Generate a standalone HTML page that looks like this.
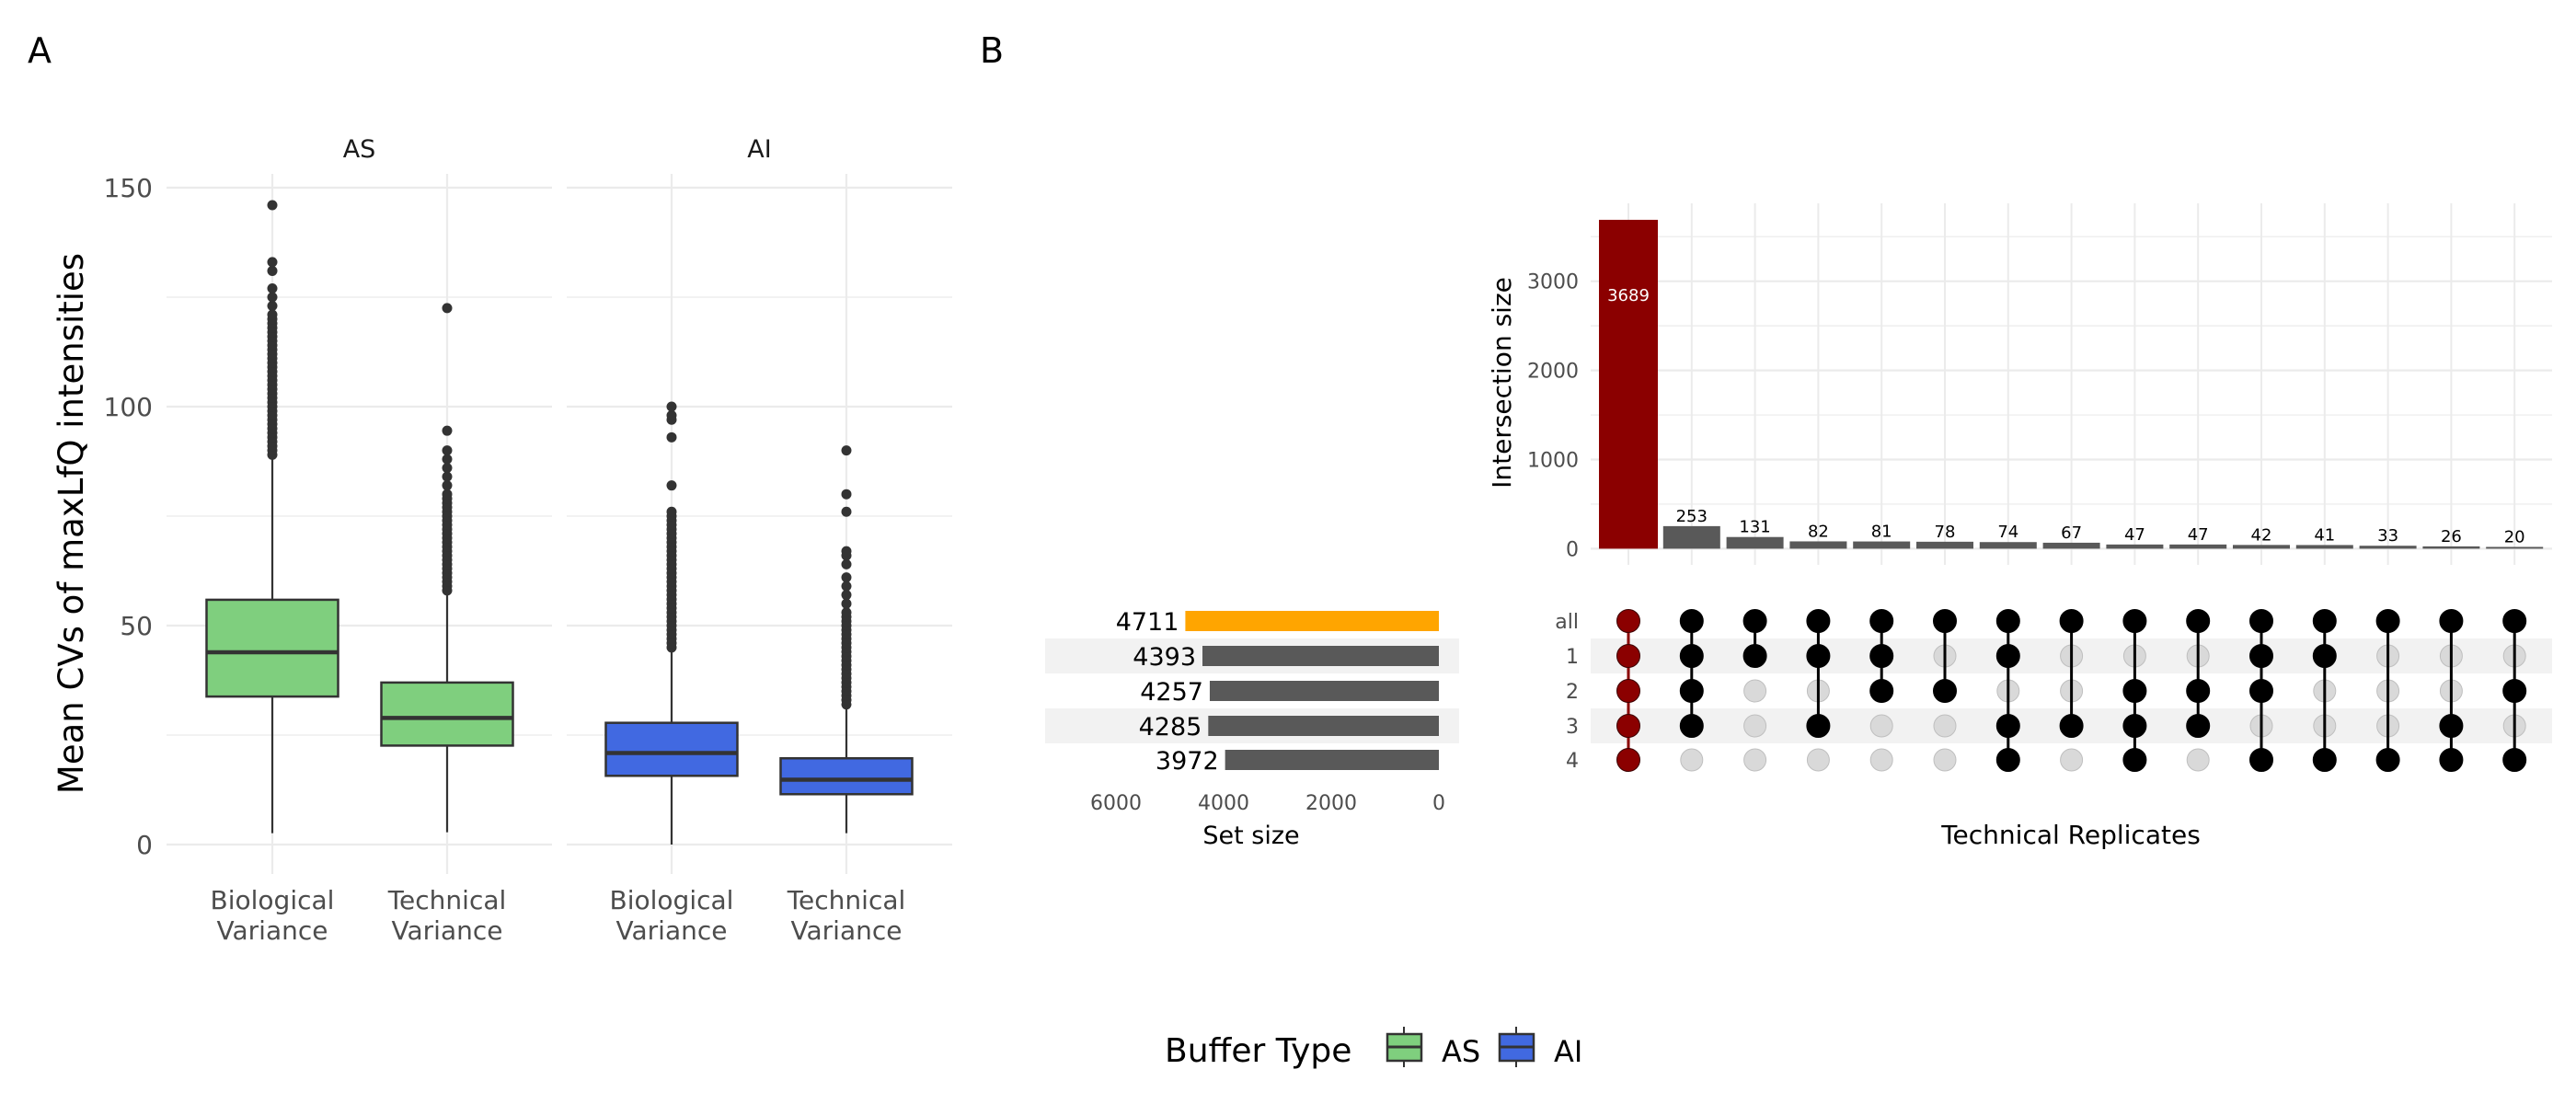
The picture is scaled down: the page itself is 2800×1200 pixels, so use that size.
<!DOCTYPE html>
<html><head><meta charset="utf-8"><style>
html,body{margin:0;padding:0;background:#fff;}
svg{display:block;font-family:"DejaVu Sans","Liberation Sans",sans-serif;}
</style></head><body>
<svg id="c" width="2800" height="1200" viewBox="0 0 2800 1200" xmlns="http://www.w3.org/2000/svg">
<text x="30" y="68" font-size="38" fill="#000">A</text>
<text x="1065" y="68" font-size="38" fill="#000">B</text>
<g id="left"></g>
<g id="right" transform="translate(14,3)"></g>
<g id="legend" transform="translate(14,0)">
<text x="1252" y="1154" font-size="36" fill="#000">Buffer Type</text>
<g>
<line x1="1512" y1="1116" x2="1512" y2="1160" stroke="#333" stroke-width="2"/>
<rect x="1494" y="1124" width="37" height="29" fill="#7FCF7E" stroke="#333" stroke-width="2.5"/>
<line x1="1494" y1="1138" x2="1531" y2="1138" stroke="#333" stroke-width="3"/>
<text x="1553" y="1154" font-size="32" fill="#000">AS</text></g>
<g>
<line x1="1634" y1="1116" x2="1634" y2="1160" stroke="#333" stroke-width="2"/>
<rect x="1616" y="1124" width="37" height="29" fill="#4169E1" stroke="#333" stroke-width="2.5"/>
<line x1="1616" y1="1138" x2="1653" y2="1138" stroke="#333" stroke-width="3"/>
<text x="1675" y="1154" font-size="32" fill="#000">AI</text></g>
</g>
</svg>
<script>
// ---- Box plot data ----
const panels = ["AS","AI"];
const categories = ["Biological Variance","Technical Variance"];
const boxQ1 = [33.8, 22.6, 15.7, 11.5];
const boxMedian = [43.9, 28.9, 20.9, 14.8];
const boxQ3 = [55.9, 37.0, 27.8, 19.7];
const whiskerLow = [2.6, 2.8, 0, 2.6];
const whiskerHigh = [89, 58, 44.5, 31.6];
const outliers0 = [89,90,91,92,93,94,95,96,97,98,99,100,101,102,103,104,105,106,107,108,109,110,111,112,113,114,115,116,117,118,119,120,121,123,125,127,131,133,146];
const outliers1 = [58,59,60,61,62,63,64,65,66,67,68,69,70,71,72,73,74,75,76,77,78,79,80,82,84,86,88,90,94.5,122.5];
const outliers2 = [45,46,47,48,49,50,51,52,53,54,55,56,57,58,59,60,61,62,63,64,65,66,67,68,69,70,71,72,73,74,75,76,82,93,97,98,100];
const outliers3 = [32,33,34,35,36,37,38,39,40,41,42,43,44,45,46,47,48,49,50,51,52,53,55,57,59,61,64,66,67,76,80,90];
const yTicks = [0,50,100,150];
const boxFill = ["#7FCF7E","#7FCF7E","#4169E1","#4169E1"];

// ---- UpSet data ----
const intersectionSizes = [3689,253,131,82,81,78,74,67,47,47,42,41,33,26,20];
const setNames = ["all","1","2","3","4"];
const setSizes = [4711,4393,4257,4285,3972];
const membership = [[0,1,2,3,4],[0,1,2,3],[0,1],[0,1,3],[0,1,2],[0,2],[0,1,3,4],[0,3],[0,2,3,4],[0,2,3],[0,1,2,4],[0,1,4],[0,4],[0,3,4],[0,2,4]];
const interTicks = [0,1000,2000,3000];
const setTicks = [6000,4000,2000,0];

const NS="http://www.w3.org/2000/svg";
function mk(parent,tag,attrs,text){const e=document.createElementNS(NS,tag);for(const k in attrs)e.setAttribute(k,attrs[k]);if(text!==undefined)e.textContent=text;parent.appendChild(e);return e;}

// ---- Left panel ----
const L=document.getElementById('left');
const y0=918, yPer=(918-204)/150;
const yS=v=>y0-v*yPer;
const panelX=[[181,600],[616,1035]];
const centers=[296,486,730,920];
panelX.forEach(([a,b])=>{
  for(let v=0;v<=150;v+=25){const l=mk(L,'line',{x1:a,x2:b,y1:yS(v),y2:yS(v),stroke:'#ebebeb','stroke-width':v%50===0?2.2:1.2});
  }
});
centers.forEach(cx=>{const l=mk(L,'line',{x1:cx,x2:cx,y1:189,y2:950,stroke:'#ebebeb','stroke-width':2.2});
});
yTicks.forEach(v=>{const t=mk(L,'text',{x:166,y:yS(v)+10,'text-anchor':'end','font-size':28,fill:'#4d4d4d'},String(v));
});
panels.forEach((p,i)=>{const t=mk(L,'text',{x:(panelX[i][0]+panelX[i][1])/2,y:171,'text-anchor':'middle','font-size':27,fill:'#1a1a1a'},p);
});
const yt=mk(L,'text',{x:0,y:0,transform:'translate(90,569) rotate(-90)','text-anchor':'middle','font-size':37,fill:'#000'},'Mean CVs of maxLfQ intensities');

const outs=[outliers0,outliers1,outliers2,outliers3];
centers.forEach((cx,i)=>{
  const g=mk(L,'g',{});
  
  
  mk(g,'line',{x1:cx,x2:cx,y1:yS(whiskerLow[i]),y2:yS(boxQ1[i]),stroke:'#333','stroke-width':2.2});
  mk(g,'line',{x1:cx,x2:cx,y1:yS(boxQ3[i]),y2:yS(whiskerHigh[i]),stroke:'#333','stroke-width':2.2});
  mk(g,'rect',{x:cx-71.5,y:yS(boxQ3[i]),width:143,height:yS(boxQ1[i])-yS(boxQ3[i]),fill:boxFill[i],stroke:'#333','stroke-width':2.5});
  mk(g,'line',{x1:cx-71.5,x2:cx+71.5,y1:yS(boxMedian[i]),y2:yS(boxMedian[i]),stroke:'#333','stroke-width':4.5});
  outs[i].forEach(v=>{const c=mk(g,'circle',{cx:cx,cy:yS(v),r:5.5,fill:'#333'});
  });
  const words=categories[i%2].split(' ');
  const t1=mk(L,'text',{x:cx,y:988,'text-anchor':'middle','font-size':28,fill:'#4d4d4d'},words[0]);
  
  const t2=mk(L,'text',{x:cx,y:1021,'text-anchor':'middle','font-size':28,fill:'#4d4d4d'},words[1]);
  
});

// ---- Right panel ----
const R=document.getElementById('right');
const iy0=593.4, iPer=96.9/1000;
const iS=v=>iy0-v*iPer;
const colX=i=>1756+i*68.8;
const rowY=[672,710,748,786,823];
const sx0=1550, sPer=58.5/1000;
const sS=v=>sx0-v*sPer;
[1,3].forEach(r=>{
  const b1=mk(R,'rect',{x:1715,y:rowY[r]-19,width:1045,height:38,fill:'#f2f2f2'});
  
  const b2=mk(R,'rect',{x:1122,y:rowY[r]-19,width:450,height:38,fill:'#f2f2f2'});
  
});
for(let v=0;v<=3500;v+=500){const l=mk(R,'line',{x1:1715,x2:2760,y1:iS(v),y2:iS(v),stroke:'#ebebeb','stroke-width':v%1000===0?2.2:1.2});
}
intersectionSizes.forEach((v,i)=>{const l=mk(R,'line',{x1:colX(i),x2:colX(i),y1:218,y2:611,stroke:'#ebebeb','stroke-width':2});
});
interTicks.forEach(v=>{const t=mk(R,'text',{x:1702,y:iS(v)+8,'text-anchor':'end','font-size':22,fill:'#4d4d4d'},String(v));
});
const it=mk(R,'text',{x:0,y:0,transform:'translate(1628,413) rotate(-90)','text-anchor':'middle','font-size':28,fill:'#000'},'Intersection size');

intersectionSizes.forEach((v,i)=>{
  const b=mk(R,'rect',{x:colX(i)-(i===0?32:31),y:iS(v),width:i===0?64:62,height:iy0-iS(v),fill:i===0?'#8B0000':'#595959'});
  
  const t=mk(R,'text',{x:colX(i),y:i===0?iS(v)+88:iS(v)-5,'text-anchor':'middle','font-size':18,fill:i===0?'#fff':'#000'},String(v));
  
});
setSizes.forEach((v,r)=>{
  const b=mk(R,'rect',{x:sS(v),y:rowY[r]-11,width:sx0-sS(v),height:22,fill:r===0?'#FFA500':'#595959'});
  
  const t=mk(R,'text',{x:sS(v)-7,y:rowY[r]+10,'text-anchor':'end','font-size':27,fill:'#000'},String(v));
  
});
setTicks.forEach(v=>{const t=mk(R,'text',{x:sS(v),y:877,'text-anchor':'middle','font-size':22,fill:'#4d4d4d'},String(v));
});
const st=mk(R,'text',{x:1346,y:914,'text-anchor':'middle','font-size':27,fill:'#000'},'Set size');

setNames.forEach((n,r)=>{const t=mk(R,'text',{x:1702,y:rowY[r]+8,'text-anchor':'end','font-size':22,fill:'#4d4d4d'},n);
});
const tr=mk(R,'text',{x:2237,y:914,'text-anchor':'middle','font-size':28,fill:'#000'},'Technical Replicates');

membership.forEach((m,i)=>{
  const cx=colX(i);const col=i===0?'#8B0000':'#000';
  const g=mk(R,'g',{});
  
  setNames.forEach((n,r)=>{if(!m.includes(r))mk(g,'circle',{cx:cx,cy:rowY[r],r:12,fill:'#d9d9d9',stroke:'#bfbfbf','stroke-width':1});});
  const mx=Math.max(...m);
  mk(g,'line',{x1:cx,x2:cx,y1:rowY[0],y2:rowY[mx],stroke:col,'stroke-width':3});
  m.forEach(r=>{const c=mk(g,'circle',{cx:cx,cy:rowY[r],r:12.5,fill:col,stroke:i===0?'#3a0000':'#000','stroke-width':1});
  });
});
</script>
</body></html>
